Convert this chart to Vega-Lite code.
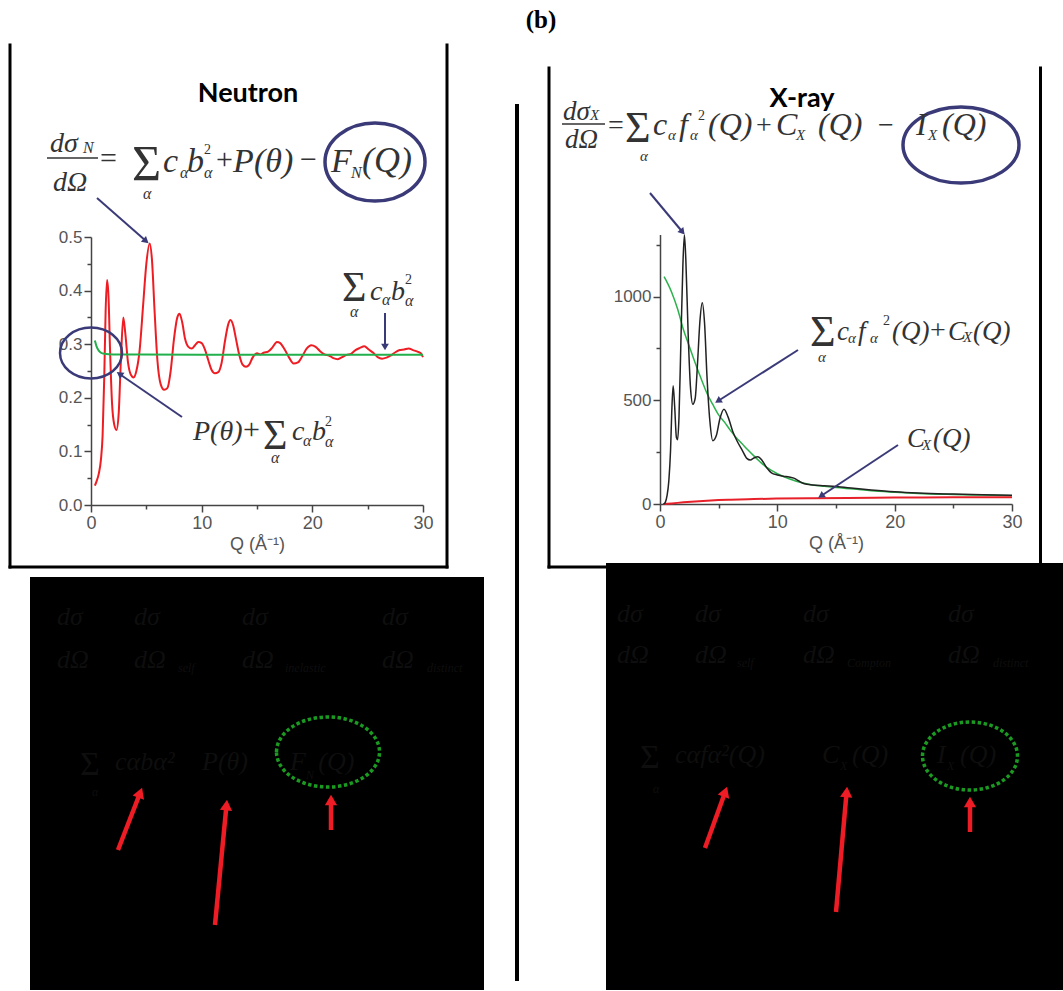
{
"$schema": "https://vega.github.io/schema/vega-lite/v6.json",
"width": 1063, "height": 991, "autosize": "none", "padding": 0, "background": "white",
"config": {"view": {"stroke": null}, "axis": {"grid": false}},
"resolve": {"scale": {"x": "independent", "y": "independent"}, "axis": {"x": "independent", "y": "independent"}},
"layer": [
{"layer": [
 {"data": {"values": [
  {"Q":0.35,"S":0.036},{"Q":0.5,"S":0.044},{"Q":0.7,"S":0.058},{"Q":0.9,"S":0.085},{"Q":1.05,"S":0.13},{"Q":1.2,"S":0.24},{"Q":1.32,"S":0.36},{"Q":1.45,"S":0.42},{"Q":1.58,"S":0.39},{"Q":1.72,"S":0.29},{"Q":1.9,"S":0.19},{"Q":2.1,"S":0.15},{"Q":2.3,"S":0.14},{"Q":2.5,"S":0.17},{"Q":2.7,"S":0.27},{"Q":2.92,"S":0.35},{"Q":3.1,"S":0.32},{"Q":3.35,"S":0.265},{"Q":3.6,"S":0.243},{"Q":3.85,"S":0.238},{"Q":4.1,"S":0.25},{"Q":4.4,"S":0.29},{"Q":4.7,"S":0.37},{"Q":5.0,"S":0.45},{"Q":5.3,"S":0.488},{"Q":5.5,"S":0.46},{"Q":5.75,"S":0.36},{"Q":6.0,"S":0.27},{"Q":6.3,"S":0.225},{"Q":6.6,"S":0.215},{"Q":6.9,"S":0.218},{"Q":7.2,"S":0.25},{"Q":7.5,"S":0.31},{"Q":7.8,"S":0.35},{"Q":8.0,"S":0.357},{"Q":8.25,"S":0.34},{"Q":8.5,"S":0.31},{"Q":8.8,"S":0.295},{"Q":9.1,"S":0.292},{"Q":9.4,"S":0.298},{"Q":9.7,"S":0.304},{"Q":10.0,"S":0.302},{"Q":10.3,"S":0.29},{"Q":10.6,"S":0.27},{"Q":10.9,"S":0.252},{"Q":11.2,"S":0.246},{"Q":11.5,"S":0.248},{"Q":11.8,"S":0.265},{"Q":12.1,"S":0.305},{"Q":12.4,"S":0.337},{"Q":12.6,"S":0.345},{"Q":12.85,"S":0.335},{"Q":13.1,"S":0.31},{"Q":13.4,"S":0.28},{"Q":13.7,"S":0.262},{"Q":14.0,"S":0.258},{"Q":14.3,"S":0.262},{"Q":14.6,"S":0.275},{"Q":15.0,"S":0.283},{"Q":15.3,"S":0.281},{"Q":15.6,"S":0.284},{"Q":16.0,"S":0.286},{"Q":16.4,"S":0.294},{"Q":16.8,"S":0.304},{"Q":17.1,"S":0.302},{"Q":17.5,"S":0.29},{"Q":17.9,"S":0.275},{"Q":18.3,"S":0.264},{"Q":18.7,"S":0.266},{"Q":19.1,"S":0.278},{"Q":19.5,"S":0.292},{"Q":19.9,"S":0.298},{"Q":20.3,"S":0.295},{"Q":20.7,"S":0.287},{"Q":21.1,"S":0.281},{"Q":21.5,"S":0.279},{"Q":21.9,"S":0.274},{"Q":22.3,"S":0.272},{"Q":22.7,"S":0.276},{"Q":23.1,"S":0.28},{"Q":23.5,"S":0.282},{"Q":23.9,"S":0.289},{"Q":24.3,"S":0.293},{"Q":24.7,"S":0.296},{"Q":25.1,"S":0.29},{"Q":25.5,"S":0.284},{"Q":25.9,"S":0.276},{"Q":26.3,"S":0.273},{"Q":26.7,"S":0.275},{"Q":27.1,"S":0.279},{"Q":27.5,"S":0.285},{"Q":27.9,"S":0.289},{"Q":28.3,"S":0.29},{"Q":28.7,"S":0.292},{"Q":29.1,"S":0.289},{"Q":29.5,"S":0.286},{"Q":29.8,"S":0.283},{"Q":30.0,"S":0.276}]},
  "mark": {"type": "line", "color": "#ee1d23", "strokeWidth": 2, "interpolate": "monotone"},
  "encoding": {
   "x": {"field": "Q", "type": "quantitative", "scale": {"domain": [0, 30], "range": [91, 423], "nice": false, "zero": false},
     "axis": {"orient": "bottom", "offset": -486, "values": [0,5,10,15,20,25,30], "labelExpr": "datum.value % 10 === 0 ? datum.label : ''", "tickSize": {"condition": {"test": "datum.value % 10 === 0", "value": 7}, "value": 4}, "labelFlush": false, "labelOverlap": false, "title": "Q (Å⁻¹)", "titleFont": "Liberation Sans", "titleFontSize": 18, "titleFontWeight": "normal", "titleColor": "#555", "titlePadding": 3, "labelFont": "Liberation Sans", "labelFontSize": 18, "labelColor": "#555", "labelPadding": 2, "domainColor": "#444", "tickColor": "#444", "domainWidth": 1.5, "tickWidth": 1.5, "grid": false}},
   "y": {"field": "S", "type": "quantitative", "scale": {"domain": [0, 0.5], "range": [505, 237], "nice": false, "zero": false},
     "axis": {"orient": "left", "offset": -91, "values": [0,0.05,0.1,0.15,0.2,0.25,0.3,0.35,0.4,0.45,0.5], "format": ".1f", "labelExpr": "round(datum.value*100) % 10 === 0 ? datum.label : ''", "tickSize": {"condition": {"test": "round(datum.value*100) % 10 === 0", "value": 7}, "value": 4}, "labelOverlap": false, "labelFlush": false, "title": null, "labelFont": "Liberation Sans", "labelFontSize": 17, "labelColor": "#555", "labelPadding": 2, "domainColor": "#444", "tickColor": "#444", "domainWidth": 1.5, "tickWidth": 1.5, "grid": false}}}},
 {"data": {"values": [{"x":0.35,"y":0.307},{"x":0.5,"y":0.296},{"x":0.7,"y":0.288},{"x":0.9,"y":0.284},{"x":1.2,"y":0.282},{"x":2,"y":0.281},{"x":10,"y":0.2805},{"x":20,"y":0.2805},{"x":30,"y":0.2805}]},
  "mark": {"type": "line", "color": "#21b04b", "strokeWidth": 2, "interpolate": "monotone"},
  "encoding": {"x": {"field": "x", "type": "quantitative"}, "y": {"field": "y", "type": "quantitative"}}},
 {"data": {"values": [{"x":-7.319,"y":0.8582,"x2":-7.319,"y2":-0.1157},{"x":32.169,"y":0.8582,"x2":32.169,"y2":-0.1157},{"x":-7.319,"y":-0.1157,"x2":32.169,"y2":-0.1157}]},
  "mark": {"type": "rule", "color": "black", "strokeWidth": 3, "strokeCap": "square"},
  "encoding": {"x": {"field": "x", "type": "quantitative"}, "y": {"field": "y", "type": "quantitative"}, "x2": {"field": "x2"}, "y2": {"field": "y2"}}},
 {"data": {"values": [{"x":38.494,"y":0.7481,"x2":38.494,"y2":-0.8881}]},
  "mark": {"type": "rule", "color": "black", "strokeWidth": 4},
  "encoding": {"x": {"field": "x", "type": "quantitative"}, "y": {"field": "y", "type": "quantitative"}, "x2": {"field": "x2"}, "y2": {"field": "y2"}}},
 {"data": {"values": [{"x":-3.976,"y":0.6474,"x2":0.6325,"y2":0.6474}]},
  "mark": {"type": "rule", "color": "#333", "strokeWidth": 1.5},
  "encoding": {"x": {"field": "x", "type": "quantitative"}, "y": {"field": "y", "type": "quantitative"}, "x2": {"field": "x2"}, "y2": {"field": "y2"}}},
 {"data": {"values": [{"x":0.542,"y":0.5728,"x2":4.97,"y2":0.4925},{"x":8.223,"y":0.1642,"x2":2.575,"y2":0.2444},{"x":26.566,"y":0.3582,"x2":26.566,"y2":0.2948}]},
  "mark": {"type": "rule", "color": "#3b3a78", "strokeWidth": 2},
  "encoding": {"x": {"field": "x", "type": "quantitative"}, "y": {"field": "y", "type": "quantitative"}, "x2": {"field": "x2"}, "y2": {"field": "y2"}}},
 {"data": {"values": [{"x":4.97,"y":0.4925}]}, "mark": {"type": "point", "shape": "triangle-up", "angle": 131, "size": 60, "filled": true, "color": "#3b3a78", "opacity": 1}, "encoding": {"x": {"field": "x", "type": "quantitative"}, "y": {"field": "y", "type": "quantitative"}}},
 {"data": {"values": [{"x":2.575,"y":0.2444}]}, "mark": {"type": "point", "shape": "triangle-up", "angle": 305, "size": 60, "filled": true, "color": "#3b3a78", "opacity": 1}, "encoding": {"x": {"field": "x", "type": "quantitative"}, "y": {"field": "y", "type": "quantitative"}}},
 {"data": {"values": [{"x":26.566,"y":0.2948}]}, "mark": {"type": "point", "shape": "triangle-up", "angle": 180, "size": 60, "filled": true, "color": "#3b3a78", "opacity": 1}, "encoding": {"x": {"field": "x", "type": "quantitative"}, "y": {"field": "y", "type": "quantitative"}}},
 {"data": {"values": [{"x":25.663,"y":0.6399}]}, "mark": {"type": "point", "shape": "M-1,0C-1,-0.4308,-0.5523,-0.78,0,-0.78C0.5523,-0.78,1,-0.4308,1,0C1,0.4308,0.5523,0.78,0,0.78C-0.5523,0.78,-1,0.4308,-1,0Z", "size": 10000, "filled": false, "color": "#3b3a78", "strokeWidth": 3.5, "opacity": 1}, "encoding": {"x": {"field": "x", "type": "quantitative"}, "y": {"field": "y", "type": "quantitative"}}},
 {"data": {"values": [{"x":0,"y":0.2836}]}, "mark": {"type": "point", "shape": "M-1,0C-1,-0.4529,-0.5523,-0.82,0,-0.82C0.5523,-0.82,1,-0.4529,1,0C1,0.4529,0.5523,0.82,0,0.82C-0.5523,0.82,-1,0.4529,-1,0Z", "size": 3844, "filled": false, "color": "#3b3a78", "strokeWidth": 2.5, "opacity": 1}, "encoding": {"x": {"field": "x", "type": "quantitative"}, "y": {"field": "y", "type": "quantitative"}}},
 {"data": {"values": [{"x":6.506,"y":0.6213,"t":"c"},{"x":8.675,"y":0.6213,"t":"b"},{"x":12.831,"y":0.6213,"t":"P"},{"x":14.729,"y":0.6213,"t":"(θ)"},{"x":21.687,"y":0.6213,"t":"F"}]},
  "mark": {"type": "text", "font": "Liberation Serif", "fontStyle": "italic", "fontSize": 34, "align": "left", "baseline": "alphabetic", "color": "#333"},
  "encoding": {"x": {"field": "x", "type": "quantitative"}, "y": {"field": "y", "type": "quantitative"}, "text": {"field": "t"}}},
 {"data": {"values": [{"x":24.488,"y":0.6213,"t":"(Q)"}]},
  "mark": {"type": "text", "font": "Liberation Serif", "fontStyle": "italic", "fontSize": 36, "align": "left", "baseline": "alphabetic", "color": "#333"},
  "encoding": {"x": {"field": "x", "type": "quantitative"}, "y": {"field": "y", "type": "quantitative"}, "text": {"field": "t"}}},
 {"data": {"values": [{"x":-3.705,"y":0.6586,"t":"dσ"},{"x":-3.434,"y":0.5858,"t":"dΩ"},{"x":25.211,"y":0.3825,"t":"c"},{"x":27.108,"y":0.3825,"t":"b"},{"x":9.217,"y":0.1213,"t":"P(θ)"},{"x":18.163,"y":0.1213,"t":"c"},{"x":19.97,"y":0.1213,"t":"b"}]},
  "mark": {"type": "text", "font": "Liberation Serif", "fontStyle": "italic", "fontSize": 28, "align": "left", "baseline": "alphabetic", "color": "#333"},
  "encoding": {"x": {"field": "x", "type": "quantitative"}, "y": {"field": "y", "type": "quantitative"}, "text": {"field": "t"}}},
 {"data": {"values": [{"x":0.8133,"y":0.6287,"t":"="},{"x":11.295,"y":0.6269,"t":"+"},{"x":18.886,"y":0.6269,"t":"−"},{"x":13.735,"y":0.1231,"t":"+"}]},
  "mark": {"type": "text", "font": "Liberation Serif", "fontSize": 30, "align": "left", "baseline": "alphabetic", "color": "#333"},
  "encoding": {"x": {"field": "x", "type": "quantitative"}, "y": {"field": "y", "type": "quantitative"}, "text": {"field": "t"}}},
 {"data": {"values": [{"x":3.705,"y":0.6063,"t":"Σ"}]},
  "mark": {"type": "text", "font": "Liberation Serif", "fontSize": 50, "align": "left", "baseline": "alphabetic", "color": "#333"},
  "encoding": {"x": {"field": "x", "type": "quantitative"}, "y": {"field": "y", "type": "quantitative"}, "text": {"field": "t"}}},
 {"data": {"values": [{"x":22.681,"y":0.3806,"t":"Σ"},{"x":15.542,"y":0.1045,"t":"Σ"}]},
  "mark": {"type": "text", "font": "Liberation Serif", "fontSize": 42, "align": "left", "baseline": "alphabetic", "color": "#333"},
  "encoding": {"x": {"field": "x", "type": "quantitative"}, "y": {"field": "y", "type": "quantitative"}, "text": {"field": "t"}}},
 {"data": {"values": [{"x":-0.723,"y":0.6567,"t":"N"},{"x":8.0517,"y":0.6101,"t":"α"},{"x":10.211,"y":0.6101,"t":"α"},{"x":23.494,"y":0.6101,"t":"N"},{"x":4.699,"y":0.5709,"t":"α"},{"x":26.295,"y":0.3731,"t":"α"},{"x":28.374,"y":0.3713,"t":"α"},{"x":23.404,"y":0.3507,"t":"α"},{"x":19.157,"y":0.1101,"t":"α"},{"x":21.145,"y":0.1082,"t":"α"},{"x":16.265,"y":0.0783,"t":"α"}]},
  "mark": {"type": "text", "font": "Liberation Serif", "fontStyle": "italic", "fontSize": 16, "align": "left", "baseline": "alphabetic", "color": "#333"},
  "encoding": {"x": {"field": "x", "type": "quantitative"}, "y": {"field": "y", "type": "quantitative"}, "text": {"field": "t"}}},
 {"data": {"values": [{"x":10.211,"y":0.6549,"t":"2"},{"x":28.374,"y":0.4123,"t":"2"},{"x":21.145,"y":0.1474,"t":"2"}]},
  "mark": {"type": "text", "font": "Liberation Serif", "fontSize": 14, "align": "left", "baseline": "alphabetic", "color": "#333"},
  "encoding": {"x": {"field": "x", "type": "quantitative"}, "y": {"field": "y", "type": "quantitative"}, "text": {"field": "t"}}},
 {"data": {"values": [{"x":14.187,"y":0.7519,"t":"Neutron"}]},
  "mark": {"type": "text", "font": "Lato", "fontWeight": "bold", "fontSize": 27, "align": "center", "baseline": "alphabetic", "color": "black"},
  "encoding": {"x": {"field": "x", "type": "quantitative"}, "y": {"field": "y", "type": "quantitative"}, "text": {"field": "t"}}},
 {"data": {"values": [{"x":40.663,"y":0.8899,"t":"(b)"}]},
  "mark": {"type": "text", "font": "Liberation Serif", "fontWeight": "bold", "fontSize": 25, "align": "center", "baseline": "alphabetic", "color": "black"},
  "encoding": {"x": {"field": "x", "type": "quantitative"}, "y": {"field": "y", "type": "quantitative"}, "text": {"field": "t"}}}
]},
{"layer": [
 {"data": {"values": [{"Q":0.35,"I":1096},{"Q":1.0,"I":1020},{"Q":1.5,"I":940},{"Q":2.0,"I":840},{"Q":2.5,"I":760},{"Q":3.0,"I":680},{"Q":3.5,"I":605},{"Q":4.0,"I":534},{"Q":4.5,"I":480},{"Q":5.0,"I":430},{"Q":5.5,"I":395},{"Q":6.0,"I":355},{"Q":6.5,"I":320},{"Q":7.0,"I":290},{"Q":7.5,"I":260},{"Q":8.0,"I":232},{"Q":8.5,"I":205},{"Q":9.0,"I":180},{"Q":9.5,"I":162},{"Q":10.0,"I":146},{"Q":11.0,"I":122},{"Q":12.0,"I":104},{"Q":13.0,"I":92},{"Q":14.0,"I":85},{"Q":15.0,"I":79},{"Q":16.5,"I":72},{"Q":18.0,"I":64},{"Q":20.0,"I":57},{"Q":22.0,"I":51},{"Q":25.0,"I":46},{"Q":27.5,"I":43},{"Q":30.0,"I":40}]},
  "mark": {"type": "line", "color": "#2bb24c", "strokeWidth": 1.5, "interpolate": "monotone"},
  "encoding": {
   "x": {"field": "Q", "type": "quantitative", "scale": {"domain": [0, 30], "range": [660, 1012], "nice": false, "zero": false},
     "axis": {"orient": "bottom", "offset": -487, "values": [0,5,10,15,20,25,30], "labelExpr": "datum.value % 10 === 0 ? datum.label : ''", "tickSize": {"condition": {"test": "datum.value % 10 === 0", "value": 7}, "value": 4}, "labelFlush": false, "labelOverlap": false, "title": "Q (Å⁻¹)", "titleFont": "Liberation Sans", "titleFontSize": 18, "titleFontWeight": "normal", "titleColor": "#555", "titlePadding": 3, "labelFont": "Liberation Sans", "labelFontSize": 18, "labelColor": "#555", "labelPadding": 2, "domainColor": "#444", "tickColor": "#444", "domainWidth": 1.5, "tickWidth": 1.5, "grid": false}},
   "y": {"field": "I", "type": "quantitative", "scale": {"domain": [0, 1300], "range": [504, 234.4], "nice": false, "zero": false},
     "axis": {"orient": "left", "offset": -660, "values": [0,250,500,750,1000,1250], "labelExpr": "datum.value % 500 === 0 ? datum.value + '' : ''", "tickSize": {"condition": {"test": "datum.value % 500 === 0", "value": 7}, "value": 4}, "labelOverlap": false, "labelFlush": false, "title": null, "labelFont": "Liberation Sans", "labelFontSize": 17, "labelColor": "#555", "labelPadding": 2, "domainColor": "#444", "tickColor": "#444", "domainWidth": 1.5, "tickWidth": 1.5, "grid": false}}}},
 {"data": {"values": [{"x":0.3,"y":0},{"x":1,"y":3},{"x":2,"y":8},{"x":3,"y":12},{"x":4,"y":16},{"x":5,"y":19},{"x":6,"y":21},{"x":8,"y":24},{"x":10,"y":26},{"x":13,"y":28},{"x":16,"y":29.5},{"x":20,"y":31},{"x":25,"y":32},{"x":30,"y":33}]},
  "mark": {"type": "line", "color": "#e8202a", "strokeWidth": 2, "interpolate": "monotone"},
  "encoding": {"x": {"field": "x", "type": "quantitative"}, "y": {"field": "y", "type": "quantitative"}}},
 {"data": {"values": [{"x":0.3,"y":0},{"x":0.45,"y":8},{"x":0.6,"y":40},{"x":0.75,"y":110},{"x":0.9,"y":260},{"x":1.0,"y":440},{"x":1.12,"y":570},{"x":1.25,"y":470},{"x":1.4,"y":320},{"x":1.5,"y":310},{"x":1.62,"y":420},{"x":1.78,"y":780},{"x":1.95,"y":1150},{"x":2.08,"y":1297},{"x":2.2,"y":1180},{"x":2.4,"y":820},{"x":2.6,"y":560},{"x":2.8,"y":481},{"x":3.0,"y":510},{"x":3.2,"y":680},{"x":3.4,"y":880},{"x":3.6,"y":971},{"x":3.8,"y":870},{"x":4.0,"y":620},{"x":4.25,"y":400},{"x":4.5,"y":305},{"x":4.8,"y":330},{"x":5.1,"y":410},{"x":5.45,"y":457},{"x":5.8,"y":420},{"x":6.2,"y":350},{"x":6.6,"y":300},{"x":7.0,"y":260},{"x":7.4,"y":220},{"x":7.7,"y":212},{"x":8.0,"y":222},{"x":8.35,"y":228},{"x":8.7,"y":210},{"x":9.1,"y":175},{"x":9.5,"y":150},{"x":10.0,"y":140},{"x":10.5,"y":134},{"x":11.0,"y":130},{"x":11.4,"y":125},{"x":11.8,"y":112},{"x":12.3,"y":98},{"x":13.0,"y":92},{"x":14.0,"y":88},{"x":15.0,"y":84},{"x":16.5,"y":76},{"x":18.0,"y":68},{"x":20.0,"y":59},{"x":22.0,"y":53},{"x":25.0,"y":48},{"x":27.5,"y":45},{"x":30.0,"y":42}]},
  "mark": {"type": "line", "color": "#222", "strokeWidth": 1.5, "interpolate": "monotone"},
  "encoding": {"x": {"field": "x", "type": "quantitative"}, "y": {"field": "y", "type": "quantitative"}}},
 {"data": {"values": [{"x":-9.46,"y":2102.5,"x2":-9.46,"y2":-303.8},{"x":32.429,"y":2102.5,"x2":32.429,"y2":-303.8},{"x":-9.46,"y":-303.8,"x2":32.429,"y2":-303.8}]},
  "mark": {"type": "rule", "color": "black", "strokeWidth": 3, "strokeCap": "square"},
  "encoding": {"x": {"field": "x", "type": "quantitative"}, "y": {"field": "y", "type": "quantitative"}, "x2": {"field": "x2"}, "y2": {"field": "y2"}}},
 {"data": {"values": [{"x":-8.352,"y":1832.4,"x2":-4.688,"y2":1832.4}]},
  "mark": {"type": "rule", "color": "#333", "strokeWidth": 1.5},
  "encoding": {"x": {"field": "x", "type": "quantitative"}, "y": {"field": "y", "type": "quantitative"}, "x2": {"field": "x2"}, "y2": {"field": "y2"}}},
 {"data": {"values": [{"x":-0.852,"y":1499.7,"x2":1.918,"y2":1311.6},{"x":11.761,"y":742.6,"x2":4.943,"y2":496.7},{"x":20.284,"y":284.5,"x2":13.722,"y2":38.6}]},
  "mark": {"type": "rule", "color": "#3b3a78", "strokeWidth": 2},
  "encoding": {"x": {"field": "x", "type": "quantitative"}, "y": {"field": "y", "type": "quantitative"}, "x2": {"field": "x2"}, "y2": {"field": "y2"}}},
 {"data": {"values": [{"x":1.918,"y":1311.6}]}, "mark": {"type": "point", "shape": "triangle-up", "angle": 140, "size": 60, "filled": true, "color": "#3b3a78", "opacity": 1}, "encoding": {"x": {"field": "x", "type": "quantitative"}, "y": {"field": "y", "type": "quantitative"}}},
 {"data": {"values": [{"x":4.943,"y":496.7}]}, "mark": {"type": "point", "shape": "triangle-up", "angle": 237, "size": 60, "filled": true, "color": "#3b3a78", "opacity": 1}, "encoding": {"x": {"field": "x", "type": "quantitative"}, "y": {"field": "y", "type": "quantitative"}}},
 {"data": {"values": [{"x":13.722,"y":38.6}]}, "mark": {"type": "point", "shape": "triangle-up", "angle": 236, "size": 60, "filled": true, "color": "#3b3a78", "opacity": 1}, "encoding": {"x": {"field": "x", "type": "quantitative"}, "y": {"field": "y", "type": "quantitative"}}},
 {"data": {"values": [{"x":25.653,"y":1731.2}]}, "mark": {"type": "point", "shape": "M-1,0C-1,-0.3618,-0.5523,-0.655,0,-0.655C0.5523,-0.655,1,-0.3618,1,0C1,0.3618,0.5523,0.655,0,0.655C-0.5523,0.655,-1,0.3618,-1,0Z", "size": 13456, "filled": false, "color": "#3b3a78", "strokeWidth": 3.5, "opacity": 1}, "encoding": {"x": {"field": "x", "type": "quantitative"}, "y": {"field": "y", "type": "quantitative"}}},
 {"data": {"values": [{"x":-0.597,"y":1779.4,"t":"c"},{"x":1.619,"y":1779.4,"t":"f"},{"x":4.091,"y":1779.4,"t":"(Q)"},{"x":9.886,"y":1779.4,"t":"C"},{"x":13.466,"y":1779.4,"t":"(Q)"},{"x":21.818,"y":1779.4,"t":"I"},{"x":24.034,"y":1779.4,"t":"(Q)"}]},
  "mark": {"type": "text", "font": "Liberation Serif", "fontStyle": "italic", "fontSize": 32, "align": "left", "baseline": "alphabetic", "color": "#333"},
  "encoding": {"x": {"field": "x", "type": "quantitative"}, "y": {"field": "y", "type": "quantitative"}, "text": {"field": "t"}}},
 {"data": {"values": [{"x":-8.267,"y":1851.7,"t":"dσ"},{"x":-8.097,"y":1716.7,"t":"dΩ"},{"x":15.085,"y":790.8,"t":"c"},{"x":16.875,"y":790.8,"t":"f"},{"x":19.773,"y":790.8,"t":"(Q)"},{"x":24.546,"y":790.8,"t":"C"},{"x":26.676,"y":790.8,"t":"(Q)"},{"x":21.051,"y":276.3,"t":"C"},{"x":23.267,"y":276.3,"t":"(Q)"}]},
  "mark": {"type": "text", "font": "Liberation Serif", "fontStyle": "italic", "fontSize": 27, "align": "left", "baseline": "alphabetic", "color": "#333"},
  "encoding": {"x": {"field": "x", "type": "quantitative"}, "y": {"field": "y", "type": "quantitative"}, "text": {"field": "t"}}},
 {"data": {"values": [{"x":-4.432,"y":1784.2,"t":"="},{"x":8.182,"y":1784.2,"t":"+"},{"x":18.58,"y":1784.2,"t":"−"},{"x":23.011,"y":795.7,"t":"+"}]},
  "mark": {"type": "text", "font": "Liberation Serif", "fontSize": 28, "align": "left", "baseline": "alphabetic", "color": "#333"},
  "encoding": {"x": {"field": "x", "type": "quantitative"}, "y": {"field": "y", "type": "quantitative"}, "text": {"field": "t"}}},
 {"data": {"values": [{"x":-2.983,"y":1745.6,"t":"Σ"},{"x":12.784,"y":761.9,"t":"Σ"}]},
  "mark": {"type": "text", "font": "Liberation Serif", "fontSize": 44, "align": "left", "baseline": "alphabetic", "color": "#333"},
  "encoding": {"x": {"field": "x", "type": "quantitative"}, "y": {"field": "y", "type": "quantitative"}, "text": {"field": "t"}}},
 {"data": {"values": [{"x":-5.966,"y":1851.7,"t":"X"},{"x":0.682,"y":1755.3,"t":"α"},{"x":2.557,"y":1755.3,"t":"α"},{"x":11.591,"y":1755.3,"t":"X"},{"x":22.841,"y":1755.3,"t":"X"},{"x":-1.705,"y":1654.1,"t":"α"},{"x":16.023,"y":776.4,"t":"α"},{"x":17.898,"y":776.4,"t":"α"},{"x":25.824,"y":781.2,"t":"X"},{"x":13.466,"y":684.8,"t":"α"},{"x":22.33,"y":260.4,"t":"X"}]},
  "mark": {"type": "text", "font": "Liberation Serif", "fontStyle": "italic", "fontSize": 15, "align": "left", "baseline": "alphabetic", "color": "#333"},
  "encoding": {"x": {"field": "x", "type": "quantitative"}, "y": {"field": "y", "type": "quantitative"}, "text": {"field": "t"}}},
 {"data": {"values": [{"x":3.239,"y":1851.7,"t":"2"},{"x":19.006,"y":863.2,"t":"2"}]},
  "mark": {"type": "text", "font": "Liberation Serif", "fontSize": 14, "align": "left", "baseline": "alphabetic", "color": "#333"},
  "encoding": {"x": {"field": "x", "type": "quantitative"}, "y": {"field": "y", "type": "quantitative"}, "text": {"field": "t"}}},
 {"data": {"values": [{"x":12.102,"y":1914.4,"t":"X-ray"}]},
  "mark": {"type": "text", "font": "Lato", "fontWeight": "bold", "fontSize": 27, "align": "center", "baseline": "alphabetic", "color": "black"},
  "encoding": {"x": {"field": "x", "type": "quantitative"}, "y": {"field": "y", "type": "quantitative"}, "text": {"field": "t"}}}
]},
{"layer": [
 {"data": {"values": [{"x":0,"x2":100,"y":0,"y2":100}]},
  "mark": {"type": "rect", "color": "black"},
  "encoding": {"x": {"field": "x", "type": "quantitative", "scale": {"domain": [0, 100], "range": [30, 484], "nice": false, "zero": false}, "axis": null}, "x2": {"field": "x2"},
   "y": {"field": "y", "type": "quantitative", "scale": {"domain": [0, 100], "range": [990, 577], "nice": false, "zero": false}, "axis": null}, "y2": {"field": "y2"}}},
 {"data": {"values": [{"x":5.947,"y":88.38,"t":"dσ"},{"x":22.907,"y":88.38,"t":"dσ"},{"x":46.696,"y":88.38,"t":"dσ"},{"x":77.533,"y":88.38,"t":"dσ"},{"x":5.947,"y":77.97,"t":"dΩ"},{"x":22.907,"y":77.97,"t":"dΩ"},{"x":46.696,"y":77.97,"t":"dΩ"},{"x":77.533,"y":77.97,"t":"dΩ"},{"x":18.72,"y":53.27,"t":"cαbα²"},{"x":37.89,"y":53.27,"t":"P(θ)"},{"x":57.27,"y":53.27,"t":"F"},{"x":63.5,"y":53.27,"t":"(Q)"}]},
  "mark": {"type": "text", "font": "Liberation Serif", "fontStyle": "italic", "fontSize": 26, "align": "left", "baseline": "alphabetic", "color": "#0e0e0e"},
  "encoding": {"x": {"field": "x", "type": "quantitative"}, "y": {"field": "y", "type": "quantitative"}, "text": {"field": "t"}}},
 {"data": {"values": [{"x":32.6,"y":77.0,"t":"self"},{"x":56.17,"y":77.0,"t":"inelastic"},{"x":87.44,"y":77.0,"t":"distinct"},{"x":60.8,"y":51.0,"t":"N"},{"x":13.66,"y":47.0,"t":"α"}]},
  "mark": {"type": "text", "font": "Liberation Serif", "fontStyle": "italic", "fontSize": 12, "align": "left", "baseline": "alphabetic", "color": "#0e0e0e"},
  "encoding": {"x": {"field": "x", "type": "quantitative"}, "y": {"field": "y", "type": "quantitative"}, "text": {"field": "t"}}},
 {"data": {"values": [{"x":11.01,"y":52.06,"t":"Σ"}]},
  "mark": {"type": "text", "font": "Liberation Serif", "fontSize": 34, "align": "left", "baseline": "alphabetic", "color": "#0e0e0e"},
  "encoding": {"x": {"field": "x", "type": "quantitative"}, "y": {"field": "y", "type": "quantitative"}, "text": {"field": "t"}}},
 {"data": {"values": [{"x":65.64,"y":57.63}]}, "mark": {"type": "point", "shape": "M-1,0C-1,-0.3756,-0.5523,-0.68,0,-0.68C0.5523,-0.68,1,-0.3756,1,0C1,0.3756,0.5523,0.68,0,0.68C-0.5523,0.68,-1,0.3756,-1,0Z", "size": 10609, "filled": false, "color": "#1b9a22", "strokeWidth": 3.5, "strokeDash": [3.5, 2.5], "opacity": 1}, "encoding": {"x": {"field": "x", "type": "quantitative"}, "y": {"field": "y", "type": "quantitative"}}},
 {"data": {"values": [{"x":19.38,"y":33.9,"x2":24.27,"y2":47.77},{"x":40.75,"y":15.74,"x2":43.28,"y2":44.79},{"x":66.3,"y":38.74,"x2":66.3,"y2":46.0}]},
  "mark": {"type": "rule", "color": "#ee1c24", "strokeWidth": 4.5},
  "encoding": {"x": {"field": "x", "type": "quantitative"}, "y": {"field": "y", "type": "quantitative"}, "x2": {"field": "x2"}, "y2": {"field": "y2"}}},
 {"data": {"values": [{"x":24.27,"y":47.77}]}, "mark": {"type": "point", "shape": "triangle-up", "angle": 21, "size": 150, "filled": true, "color": "#ee1c24", "opacity": 1}, "encoding": {"x": {"field": "x", "type": "quantitative"}, "y": {"field": "y", "type": "quantitative"}}},
 {"data": {"values": [{"x":43.28,"y":44.79}]}, "mark": {"type": "point", "shape": "triangle-up", "angle": 5.5, "size": 150, "filled": true, "color": "#ee1c24", "opacity": 1}, "encoding": {"x": {"field": "x", "type": "quantitative"}, "y": {"field": "y", "type": "quantitative"}}},
 {"data": {"values": [{"x":66.3,"y":46.0}]}, "mark": {"type": "point", "shape": "triangle-up", "angle": 0, "size": 150, "filled": true, "color": "#ee1c24", "opacity": 1}, "encoding": {"x": {"field": "x", "type": "quantitative"}, "y": {"field": "y", "type": "quantitative"}}}
]},
{"layer": [
 {"data": {"values": [{"x":0,"x2":100,"y":0,"y2":100}]},
  "mark": {"type": "rect", "color": "black"},
  "encoding": {"x": {"field": "x", "type": "quantitative", "scale": {"domain": [0, 100], "range": [606, 1063], "nice": false, "zero": false}, "axis": null}, "x2": {"field": "x2"},
   "y": {"field": "y", "type": "quantitative", "scale": {"domain": [0, 100], "range": [990, 563], "nice": false, "zero": false}, "axis": null}, "y2": {"field": "y2"}}},
 {"data": {"values": [{"x":2.41,"y":86.18,"t":"dσ"},{"x":19.47,"y":86.18,"t":"dσ"},{"x":43.11,"y":86.18,"t":"dσ"},{"x":74.84,"y":86.18,"t":"dσ"},{"x":2.41,"y":76.58,"t":"dΩ"},{"x":19.47,"y":76.58,"t":"dΩ"},{"x":43.11,"y":76.58,"t":"dΩ"},{"x":74.84,"y":76.58,"t":"dΩ"},{"x":15.1,"y":53.16,"t":"cαfα²(Q)"},{"x":47.26,"y":53.16,"t":"C"},{"x":53.83,"y":53.16,"t":"(Q)"},{"x":72.43,"y":53.16,"t":"I"},{"x":77.46,"y":53.16,"t":"(Q)"}]},
  "mark": {"type": "text", "font": "Liberation Serif", "fontStyle": "italic", "fontSize": 26, "align": "left", "baseline": "alphabetic", "color": "#0e0e0e"},
  "encoding": {"x": {"field": "x", "type": "quantitative"}, "y": {"field": "y", "type": "quantitative"}, "text": {"field": "t"}}},
 {"data": {"values": [{"x":28.67,"y":75.64,"t":"self"},{"x":52.74,"y":75.64,"t":"Compton"},{"x":84.68,"y":75.64,"t":"distinct"},{"x":51.2,"y":51.5,"t":"X"},{"x":74.62,"y":51.5,"t":"X"},{"x":10.28,"y":46.2,"t":"α"}]},
  "mark": {"type": "text", "font": "Liberation Serif", "fontStyle": "italic", "fontSize": 12, "align": "left", "baseline": "alphabetic", "color": "#0e0e0e"},
  "encoding": {"x": {"field": "x", "type": "quantitative"}, "y": {"field": "y", "type": "quantitative"}, "text": {"field": "t"}}},
 {"data": {"values": [{"x":7.44,"y":51.99,"t":"Σ"}]},
  "mark": {"type": "text", "font": "Liberation Serif", "fontSize": 34, "align": "left", "baseline": "alphabetic", "color": "#0e0e0e"},
  "encoding": {"x": {"field": "x", "type": "quantitative"}, "y": {"field": "y", "type": "quantitative"}, "text": {"field": "t"}}},
 {"data": {"values": [{"x":79.65,"y":54.8}]}, "mark": {"type": "point", "shape": "M-1,0C-1,-0.3954,-0.5523,-0.716,0,-0.716C0.5523,-0.716,1,-0.3954,1,0C1,0.3954,0.5523,0.716,0,0.716C-0.5523,0.716,-1,0.3954,-1,0Z", "size": 9025, "filled": false, "color": "#1b9a22", "strokeWidth": 3.5, "strokeDash": [3.5, 2.5], "opacity": 1}, "encoding": {"x": {"field": "x", "type": "quantitative"}, "y": {"field": "y", "type": "quantitative"}}},
 {"data": {"values": [{"x":21.66,"y":33.26,"x2":26.1,"y2":46.44},{"x":50.33,"y":18.27,"x2":52.65,"y2":46.37},{"x":79.65,"y":37.0,"x2":79.65,"y2":44.03}]},
  "mark": {"type": "rule", "color": "#ee1c24", "strokeWidth": 4.5},
  "encoding": {"x": {"field": "x", "type": "quantitative"}, "y": {"field": "y", "type": "quantitative"}, "x2": {"field": "x2"}, "y2": {"field": "y2"}}},
 {"data": {"values": [{"x":26.1,"y":46.44}]}, "mark": {"type": "point", "shape": "triangle-up", "angle": 20, "size": 150, "filled": true, "color": "#ee1c24", "opacity": 1}, "encoding": {"x": {"field": "x", "type": "quantitative"}, "y": {"field": "y", "type": "quantitative"}}},
 {"data": {"values": [{"x":52.65,"y":46.37}]}, "mark": {"type": "point", "shape": "triangle-up", "angle": 5, "size": 150, "filled": true, "color": "#ee1c24", "opacity": 1}, "encoding": {"x": {"field": "x", "type": "quantitative"}, "y": {"field": "y", "type": "quantitative"}}},
 {"data": {"values": [{"x":79.65,"y":44.03}]}, "mark": {"type": "point", "shape": "triangle-up", "angle": 0, "size": 150, "filled": true, "color": "#ee1c24", "opacity": 1}, "encoding": {"x": {"field": "x", "type": "quantitative"}, "y": {"field": "y", "type": "quantitative"}}}
]}
]
}
